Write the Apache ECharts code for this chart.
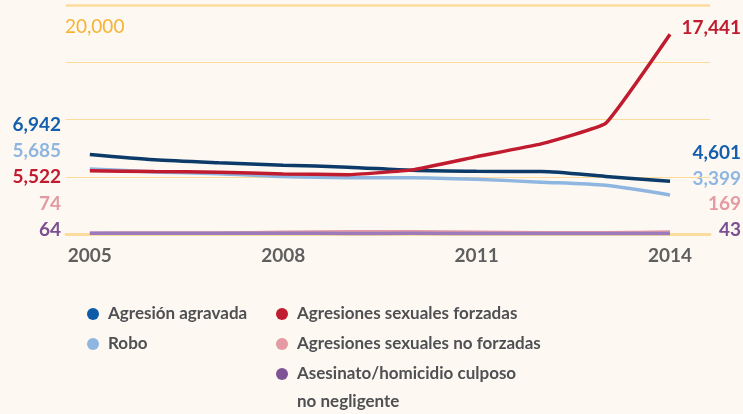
<!DOCTYPE html>
<html>
<head>
<meta charset="utf-8">
<script src="https://cdn.jsdelivr.net/npm/echarts@6/dist/echarts.min.js"></script>
<style>
    html, body { margin: 0; padding: 0; background: #fdf8f1; }
    #chart { width: 743px; height: 414px; }
</style>
</head>
<body>
<div id="chart"></div>
<script>
    // años y valores
    var years = [2005, 2006, 2007, 2008, 2009, 2010, 2011, 2012, 2013, 2014];
    var agravada = [6942, 6480, 6220, 6010, 5840, 5560, 5470, 5460, 5030, 4601];
    var robo = [5685, 5420, 5270, 5020, 4920, 4920, 4780, 4530, 4250, 3399];
    var forzadas = [5522, 5450, 5400, 5250, 5180, 5600, 6760, 7870, 9660, 17441];
    var noForzadas = [74, 80, 90, 150, 200, 190, 150, 120, 110, 169];
    var asesinato = [64, 60, 58, 56, 54, 55, 52, 50, 48, 43];
    var xTicks = [2005, 2008, 2011, 2014];
    var yTicks = [0, 5000, 10000, 15000, 20000];

    var FONT = 'Lato, sans-serif';
    var grid = '#fbdc9c';

    function pts(arr) {
        return arr.map(function (v, i) { return [years[i], v]; });
    }
    function fmt(v) {
        return v.toLocaleString('en-US');
    }

    var series = [
        {name: 'Robo', data: robo, line: '#8fb6e1', dot: '#8fb6e1', smooth: 0.25},
        {name: 'Agresión agravada', data: agravada, line: '#0c3b69', dot: '#0d5aa7', smooth: 0.25},
        {name: 'Agresiones sexuales no forzadas', data: noForzadas, line: '#e39aa3', dot: '#e39aa3', smooth: 0.25},
        {name: 'Asesinato/homicidio culposo', data: asesinato, line: '#9b7bbb', dot: '#7f5496', smooth: 0.25},
        {name: 'Agresiones sexuales forzadas', data: forzadas, line: '#c01b2f', dot: '#c01b2f', smooth: 0.1}
    ];

    // etiquetas de inicio (izquierda) y final (derecha)
    var leftLabels = [
        {text: fmt(agravada[0]), color: '#135fad', y: 125},
        {text: fmt(robo[0]), color: '#8fb6e1', y: 151},
        {text: fmt(forzadas[0]), color: '#c01b2f', y: 177},
        {text: fmt(noForzadas[0]), color: '#e39aa3', y: 204},
        {text: fmt(asesinato[0]), color: '#7b4f91', y: 230}
    ];
    var rightLabels = [
        {text: fmt(forzadas[9]), color: '#c01b2f', y: 28},
        {text: fmt(agravada[9]), color: '#135fad', y: 153},
        {text: fmt(robo[9]), color: '#8fb6e1', y: 179},
        {text: fmt(noForzadas[9]), color: '#e39aa3', y: 204},
        {text: fmt(asesinato[9]), color: '#7b4f91', y: 230}
    ];

    var graphics = [];
    leftLabels.forEach(function (l) {
        graphics.push({type: 'text', right: 743 - 61, top: l.y - 10,
            style: {text: l.text, fill: l.color, font: 'bold 19px ' + FONT}});
    });
    rightLabels.forEach(function (l) {
        graphics.push({type: 'text', right: 2, top: l.y - 10,
            style: {text: l.text, fill: l.color, font: 'bold 19px ' + FONT}});
    });
    graphics.push({type: 'text', left: 65, top: 17,
        style: {text: fmt(yTicks[4]), fill: '#f5b335', font: 'normal 19px ' + FONT}});
    // segunda linea del ultimo elemento de la leyenda
    graphics.push({type: 'text', left: 297, top: 393,
        style: {text: 'no negligente', fill: '#4f5054', font: 'bold 17px ' + FONT}});

    var legendText = {color: '#4f5054', fontFamily: FONT, fontWeight: 700, fontSize: 17, lineHeight: 20, padding: [0, 0, 0, 4]};

    var chart = echarts.init(document.getElementById('chart'));
    chart.setOption({
        backgroundColor: '#fdf8f1',
        animation: false,
        grid: {left: 66, right: 33, top: 5, bottom: 180},
        xAxis: {
            type: 'value',
            min: 2004.63,
            max: 2014.62,
            offset: 2,
            axisLine: {show: true, lineStyle: {color: grid, width: 3}},
            axisTick: {show: false},
            splitLine: {show: false},
            axisLabel: {
                customValues: xTicks,
                margin: 10,
                color: '#5f5f5f',
                fontFamily: FONT,
                fontWeight: 'bold',
                fontSize: 19,
                formatter: function (v) { return String(v); }
            }
        },
        yAxis: {
            type: 'value',
            min: yTicks[0],
            max: yTicks[4],
            interval: 5000,
            axisLine: {show: false},
            axisTick: {show: false},
            axisLabel: {show: false},
            splitLine: {lineStyle: {color: grid, width: 1}}
        },
        legend: [
            {
                data: ['Agresión agravada', 'Robo'],
                orient: 'vertical', left: 87, top: 304, padding: 0,
                itemWidth: 12, itemHeight: 12, itemGap: 10,
                icon: 'circle', textStyle: legendText
            },
            {
                data: ['Agresiones sexuales forzadas', 'Agresiones sexuales no forzadas', 'Asesinato/homicidio culposo'],
                orient: 'vertical', left: 276, top: 304, padding: 0,
                itemWidth: 12, itemHeight: 12, itemGap: 10,
                icon: 'circle', textStyle: legendText
            }
        ],
        graphic: graphics,
        series: series.map(function (s, idx) {
            var o = {
                name: s.name,
                type: 'line',
                data: pts(s.data),
                smooth: s.smooth,
                showSymbol: false,
                lineStyle: {color: s.line, width: 3.5},
                itemStyle: {color: s.dot},
                z: 2 + idx
            };
            if (idx === 0) {
                // linea superior gruesa en 20,000
                o.markLine = {
                    silent: true,
                    symbol: 'none',
                    label: {show: false},
                    lineStyle: {color: grid, width: 2.5, type: 'solid'},
                    data: [{yAxis: yTicks[4]}]
                };
            }
            return o;
        })
    });
</script>
</body>
</html>
